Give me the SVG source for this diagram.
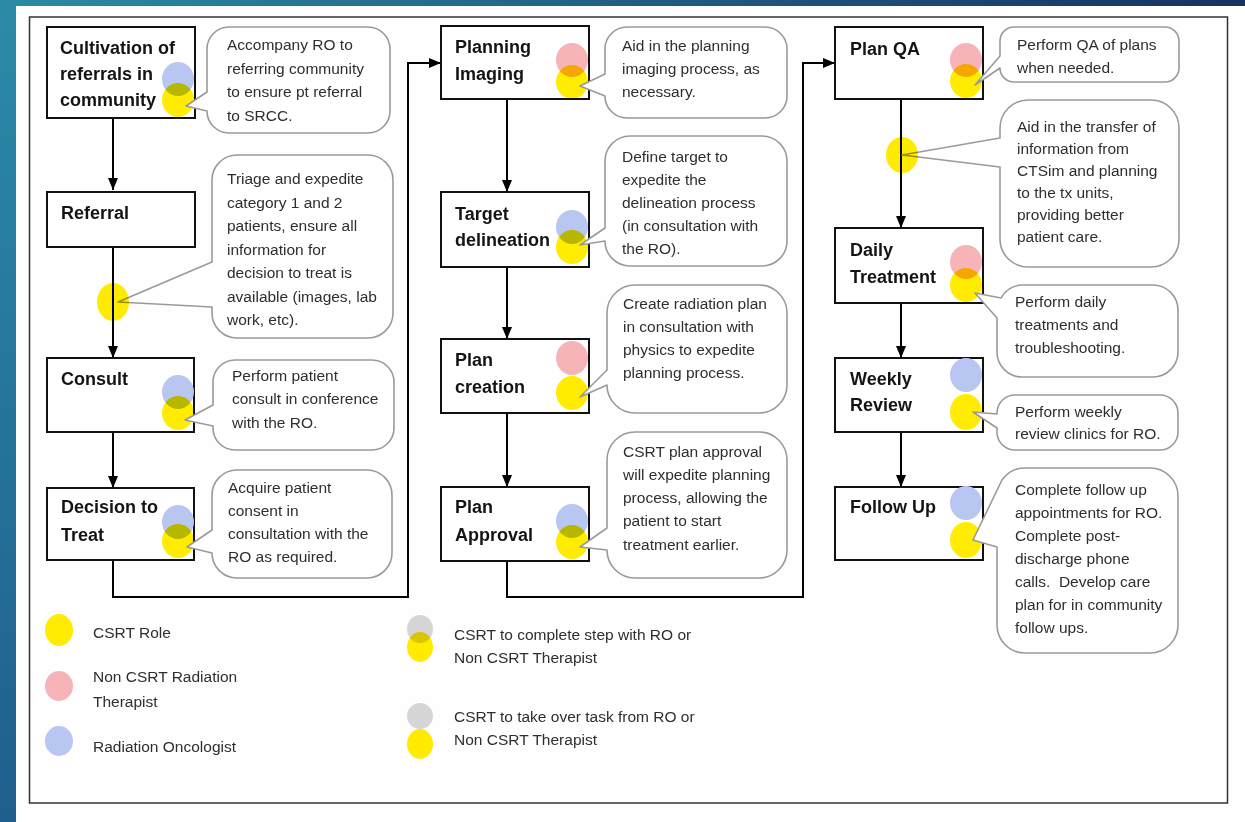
<svg xmlns="http://www.w3.org/2000/svg" width="1245" height="822" viewBox="0 0 1245 822">
<defs>
<linearGradient id="gl" x1="0" y1="0" x2="0" y2="1"><stop offset="0" stop-color="#2b8ba7"/><stop offset="1" stop-color="#1f5f8d"/></linearGradient>
<linearGradient id="gt" x1="0" y1="0" x2="1" y2="0"><stop offset="0" stop-color="#2b8ba7"/><stop offset="1" stop-color="#17325f"/></linearGradient>
<marker id="ah" viewBox="0 0 12 10" markerWidth="12" markerHeight="10" refX="12" refY="5" orient="auto" markerUnits="userSpaceOnUse"><path d="M0,0 L12,5 L0,10 Z" fill="#000"/></marker>
<style>
.box{fill:#fff;stroke:#111;stroke-width:2}
.bub{fill:#fff;stroke:#9a9a9a;stroke-width:1.6;stroke-linejoin:round}
.lbl{font-family:"Liberation Sans",Arial,sans-serif;font-weight:bold;font-size:18px;fill:#141414}
.txt{font-family:"Liberation Sans",Arial,sans-serif;font-size:15.5px;fill:#2e2e2e}
.con{fill:none;stroke:#000;stroke-width:2}
.y{fill:#ffec00;mix-blend-mode:multiply}
.b{fill:#b8c6f2}
.p{fill:#f6b3b8}
.g{fill:#d6d6d6}
</style>
</defs>
<rect x="0" y="0" width="1245" height="822" fill="#fefefe"/>
<rect x="0" y="0" width="16" height="822" fill="url(#gl)"/>
<rect x="0" y="0" width="1245" height="6" fill="url(#gt)"/>
<rect x="29.5" y="17" width="1198" height="786" fill="none" stroke="#333" stroke-width="1.5"/>

<g id="connectors">
<path class="con" d="M113,118 V190" marker-end="url(#ah)"/>
<path class="con" d="M113,247 V358" marker-end="url(#ah)"/>
<path class="con" d="M113,432 V488" marker-end="url(#ah)"/>
<path class="con" d="M113,560 V597 H408 V63 H441" marker-end="url(#ah)"/>
<path class="con" d="M507,99 V192" marker-end="url(#ah)"/>
<path class="con" d="M507,267 V339" marker-end="url(#ah)"/>
<path class="con" d="M507,413 V487" marker-end="url(#ah)"/>
<path class="con" d="M507,561 V597 H803 V63 H835" marker-end="url(#ah)"/>
<path class="con" d="M901,99 V228" marker-end="url(#ah)"/>
<path class="con" d="M901,303 V358" marker-end="url(#ah)"/>
<path class="con" d="M901,432 V487" marker-end="url(#ah)"/>
</g>

<g id="n-cultivation">
<rect class="box" x="47" y="27" width="148" height="91"/>
<text class="lbl" x="60" y="54">Cultivation of</text>
<text class="lbl" x="60" y="80">referrals in</text>
<text class="lbl" x="60" y="106">community</text>
<ellipse class="b" cx="178" cy="79" rx="16" ry="17"/>
<ellipse class="y" cx="178" cy="100" rx="16" ry="17"/>
</g>
<g id="c-cultivation">
<path class="bub" d="M229,27 H368 A22 22 0 0 1 390,49 V111 A22 22 0 0 1 368,133 H229 A22 22 0 0 1 207,111 L186,106 L207,92 V49 A22 22 0 0 1 229,27 Z"/>
<text class="txt" x="227" y="50">Accompany RO to</text>
<text class="txt" x="227" y="73.5">referring community</text>
<text class="txt" x="227" y="97">to ensure pt referral</text>
<text class="txt" x="227" y="120.5">to SRCC.</text>
</g>

<g id="n-referral">
<rect class="box" x="47" y="192" width="148" height="55"/>
<text class="lbl" x="61" y="219">Referral</text>
</g>
<g id="c-referral">
<path class="bub" d="M237,155 H368 A25 25 0 0 1 393,180 V313 A25 25 0 0 1 368,338 H237 A25 25 0 0 1 212,313 V307 L118,302 L212,262 V180 A25 25 0 0 1 237,155 Z"/>
<ellipse class="y" cx="113" cy="302" rx="16" ry="19"/>
<text class="txt" x="227" y="184">Triage and expedite</text>
<text class="txt" x="227" y="207.5">category 1 and 2</text>
<text class="txt" x="227" y="231">patients, ensure all</text>
<text class="txt" x="227" y="254.5">information for</text>
<text class="txt" x="227" y="278">decision to treat is</text>
<text class="txt" x="227" y="301.5">available (images, lab</text>
<text class="txt" x="227" y="325">work, etc).</text>
</g>

<g id="n-consult">
<rect class="box" x="47" y="358" width="147" height="74"/>
<text class="lbl" x="61" y="385">Consult</text>
<ellipse class="b" cx="178" cy="392" rx="16" ry="17"/>
<ellipse class="y" cx="178" cy="413" rx="16" ry="17"/>
</g>
<g id="c-consult">
<path class="bub" d="M235,360 H372 A22 22 0 0 1 394,382 V428 A22 22 0 0 1 372,450 H235 A22 22 0 0 1 213,428 V426 L185,420 L213,405 V382 A22 22 0 0 1 235,360 Z"/>
<text class="txt" x="232" y="381">Perform patient</text>
<text class="txt" x="232" y="404">consult in conference</text>
<text class="txt" x="232" y="428">with the RO.</text>
</g>

<g id="n-decision">
<rect class="box" x="47" y="488" width="147" height="72"/>
<text class="lbl" x="61" y="513">Decision to</text>
<text class="lbl" x="61" y="541">Treat</text>
<ellipse class="b" cx="178" cy="522" rx="16" ry="17"/>
<ellipse class="y" cx="178" cy="541" rx="16" ry="17"/>
</g>
<g id="c-decision">
<path class="bub" d="M237,470 H367 A25 25 0 0 1 392,495 V553 A25 25 0 0 1 367,578 H237 A25 25 0 0 1 212,553 L187,547 L212,530 V495 A25 25 0 0 1 237,470 Z"/>
<text class="txt" x="228" y="493">Acquire patient</text>
<text class="txt" x="228" y="516">consent in</text>
<text class="txt" x="228" y="539">consultation with the</text>
<text class="txt" x="228" y="562">RO as required.</text>
</g>

<g id="n-planning-imaging">
<rect class="box" x="441" y="26" width="148" height="73"/>
<text class="lbl" x="455" y="53">Planning</text>
<text class="lbl" x="455" y="80">Imaging</text>
<ellipse class="p" cx="572" cy="60" rx="16" ry="17"/>
<ellipse class="y" cx="572" cy="82" rx="16" ry="17"/>
</g>
<g id="c-planning-imaging">
<path class="bub" d="M627,27 H765 A22 22 0 0 1 787,49 V96 A22 22 0 0 1 765,118 H627 A22 22 0 0 1 605,96 L580,86 L605,74 V49 A22 22 0 0 1 627,27 Z"/>
<text class="txt" x="622" y="51">Aid in the planning</text>
<text class="txt" x="622" y="74">imaging process, as</text>
<text class="txt" x="622" y="97">necessary.</text>
</g>

<g id="n-target">
<rect class="box" x="441" y="192" width="148" height="75"/>
<text class="lbl" x="455" y="220">Target</text>
<text class="lbl" x="455" y="246">delineation</text>
<ellipse class="b" cx="572" cy="227" rx="16" ry="17"/>
<ellipse class="y" cx="572" cy="247" rx="16" ry="17"/>
</g>
<g id="c-target">
<path class="bub" d="M630,136 H762 A25 25 0 0 1 787,161 V241 A25 25 0 0 1 762,266 H630 A25 25 0 0 1 605,241 L580,245 L605,228 V161 A25 25 0 0 1 630,136 Z"/>
<text class="txt" x="622" y="162">Define target to</text>
<text class="txt" x="622" y="185">expedite the</text>
<text class="txt" x="622" y="208">delineation process</text>
<text class="txt" x="622" y="231">(in consultation with</text>
<text class="txt" x="622" y="254">the RO).</text>
</g>

<g id="n-plan-creation">
<rect class="box" x="441" y="339" width="148" height="74"/>
<text class="lbl" x="455" y="366">Plan</text>
<text class="lbl" x="455" y="393">creation</text>
<ellipse class="p" cx="572" cy="358" rx="16" ry="17"/>
<ellipse class="y" cx="572" cy="393" rx="16" ry="17"/>
</g>
<g id="c-plan-creation">
<path class="bub" d="M635,285 H759 A28 28 0 0 1 787,313 V385 A28 28 0 0 1 759,413 H635 A28 28 0 0 1 607,385 L580,397 L607,370 V313 A28 28 0 0 1 635,285 Z"/>
<text class="txt" x="623" y="309">Create radiation plan</text>
<text class="txt" x="623" y="332">in consultation with</text>
<text class="txt" x="623" y="355">physics to expedite</text>
<text class="txt" x="623" y="378">planning process.</text>
</g>

<g id="n-plan-approval">
<rect class="box" x="441" y="487" width="148" height="74"/>
<text class="lbl" x="455" y="513">Plan</text>
<text class="lbl" x="455" y="541">Approval</text>
<ellipse class="b" cx="572" cy="521" rx="16" ry="17"/>
<ellipse class="y" cx="572" cy="542" rx="16" ry="17"/>
</g>
<g id="c-plan-approval">
<path class="bub" d="M635,432 H759 A28 28 0 0 1 787,460 V550 A28 28 0 0 1 759,578 H635 A28 28 0 0 1 607,550 L580,547 L607,528 V460 A28 28 0 0 1 635,432 Z"/>
<text class="txt" x="623" y="457">CSRT plan approval</text>
<text class="txt" x="623" y="480">will expedite planning</text>
<text class="txt" x="623" y="503">process, allowing the</text>
<text class="txt" x="623" y="526">patient to start</text>
<text class="txt" x="623" y="550">treatment earlier.</text>
</g>

<g id="n-plan-qa">
<rect class="box" x="835" y="27" width="148" height="72"/>
<text class="lbl" x="850" y="55">Plan QA</text>
<ellipse class="p" cx="966" cy="60" rx="16" ry="17"/>
<ellipse class="y" cx="966" cy="81" rx="16" ry="17"/>
</g>
<g id="c-plan-qa">
<path class="bub" d="M1014,27 H1165 A14 14 0 0 1 1179,41 V68 A14 14 0 0 1 1165,82 H1014 A14 14 0 0 1 1000,68 L975,85 L1000,56 V41 A14 14 0 0 1 1014,27 Z"/>
<text class="txt" x="1017" y="50">Perform QA of plans</text>
<text class="txt" x="1017" y="73">when needed.</text>
</g>

<g id="c-transfer">
<path class="bub" d="M1028,100 H1151 A28 28 0 0 1 1179,128 V239 A28 28 0 0 1 1151,267 H1028 A28 28 0 0 1 1000,239 V167 L902,155 L1000,138 V128 A28 28 0 0 1 1028,100 Z"/>
<ellipse class="y" cx="902" cy="155" rx="16" ry="18"/>
<text class="txt" x="1017" y="132">Aid in the transfer of</text>
<text class="txt" x="1017" y="154">information from</text>
<text class="txt" x="1017" y="176">CTSim and planning</text>
<text class="txt" x="1017" y="198">to the tx units,</text>
<text class="txt" x="1017" y="220">providing better</text>
<text class="txt" x="1017" y="242">patient care.</text>
</g>

<g id="n-daily">
<rect class="box" x="835" y="228" width="148" height="75"/>
<text class="lbl" x="850" y="256">Daily</text>
<text class="lbl" x="850" y="283">Treatment</text>
<ellipse class="p" cx="966" cy="262" rx="16" ry="17"/>
<ellipse class="y" cx="966" cy="285" rx="16" ry="17"/>
</g>
<g id="c-daily">
<path class="bub" d="M1022,285 H1153 A25 25 0 0 1 1178,310 V352 A25 25 0 0 1 1153,377 H1022 A25 25 0 0 1 997,352 V318 L975,293 L1001,298 A25 25 0 0 1 1022,285 Z"/>
<text class="txt" x="1015" y="307">Perform daily</text>
<text class="txt" x="1015" y="330">treatments and</text>
<text class="txt" x="1015" y="353">troubleshooting.</text>
</g>

<g id="n-weekly">
<rect class="box" x="835" y="358" width="148" height="74"/>
<text class="lbl" x="850" y="385">Weekly</text>
<text class="lbl" x="850" y="411">Review</text>
<ellipse class="b" cx="966" cy="375" rx="16" ry="17"/>
<ellipse class="y" cx="966" cy="412" rx="16" ry="18"/>
</g>
<g id="c-weekly">
<path class="bub" d="M1015,395 H1160 A18 18 0 0 1 1178,413 V432 A18 18 0 0 1 1160,450 H1015 A18 18 0 0 1 997,432 V428 L973,412 L997,414 V413 A18 18 0 0 1 1015,395 Z"/>
<text class="txt" x="1015" y="417">Perform weekly</text>
<text class="txt" x="1015" y="439">review clinics for RO.</text>
</g>

<g id="n-follow-up">
<rect class="box" x="835" y="487" width="148" height="73"/>
<text class="lbl" x="850" y="513">Follow Up</text>
<ellipse class="b" cx="966" cy="503" rx="16" ry="17"/>
<ellipse class="y" cx="966" cy="540" rx="16" ry="18"/>
</g>
<g id="c-follow-up">
<path class="bub" d="M1025,468 H1150 A28 28 0 0 1 1178,496 V625 A28 28 0 0 1 1150,653 H1025 A28 28 0 0 1 997,625 V547 L973,540 L1002,480 A28 28 0 0 1 1025,468 Z"/>
<text class="txt" x="1015" y="495">Complete follow up</text>
<text class="txt" x="1015" y="518">appointments for RO.</text>
<text class="txt" x="1015" y="541">Complete post-</text>
<text class="txt" x="1015" y="564">discharge phone</text>
<text class="txt" x="1015" y="587" xml:space="preserve">calls.  Develop care</text>
<text class="txt" x="1015" y="610">plan for in community</text>
<text class="txt" x="1015" y="633">follow ups.</text>
</g>

<g id="legend">
<ellipse cx="59" cy="630" rx="14" ry="16" fill="#ffec00"/>
<text class="txt" x="93" y="638">CSRT Role</text>
<ellipse class="p" cx="59" cy="686" rx="14" ry="15"/>
<text class="txt" x="93" y="682">Non CSRT Radiation</text>
<text class="txt" x="93" y="707">Therapist</text>
<ellipse class="b" cx="59" cy="741" rx="14" ry="15"/>
<text class="txt" x="93" y="752">Radiation Oncologist</text>
<ellipse class="g" cx="420" cy="629" rx="13" ry="14"/>
<ellipse class="y" cx="420" cy="647" rx="13" ry="15"/>
<text class="txt" x="454" y="640">CSRT to complete step with RO or</text>
<text class="txt" x="454" y="663">Non CSRT Therapist</text>
<ellipse class="g" cx="420" cy="716" rx="13" ry="13"/>
<ellipse class="y" cx="420" cy="744" rx="13" ry="15"/>
<text class="txt" x="454" y="722">CSRT to take over task from RO or</text>
<text class="txt" x="454" y="745">Non CSRT Therapist</text>
</g>
</svg>
